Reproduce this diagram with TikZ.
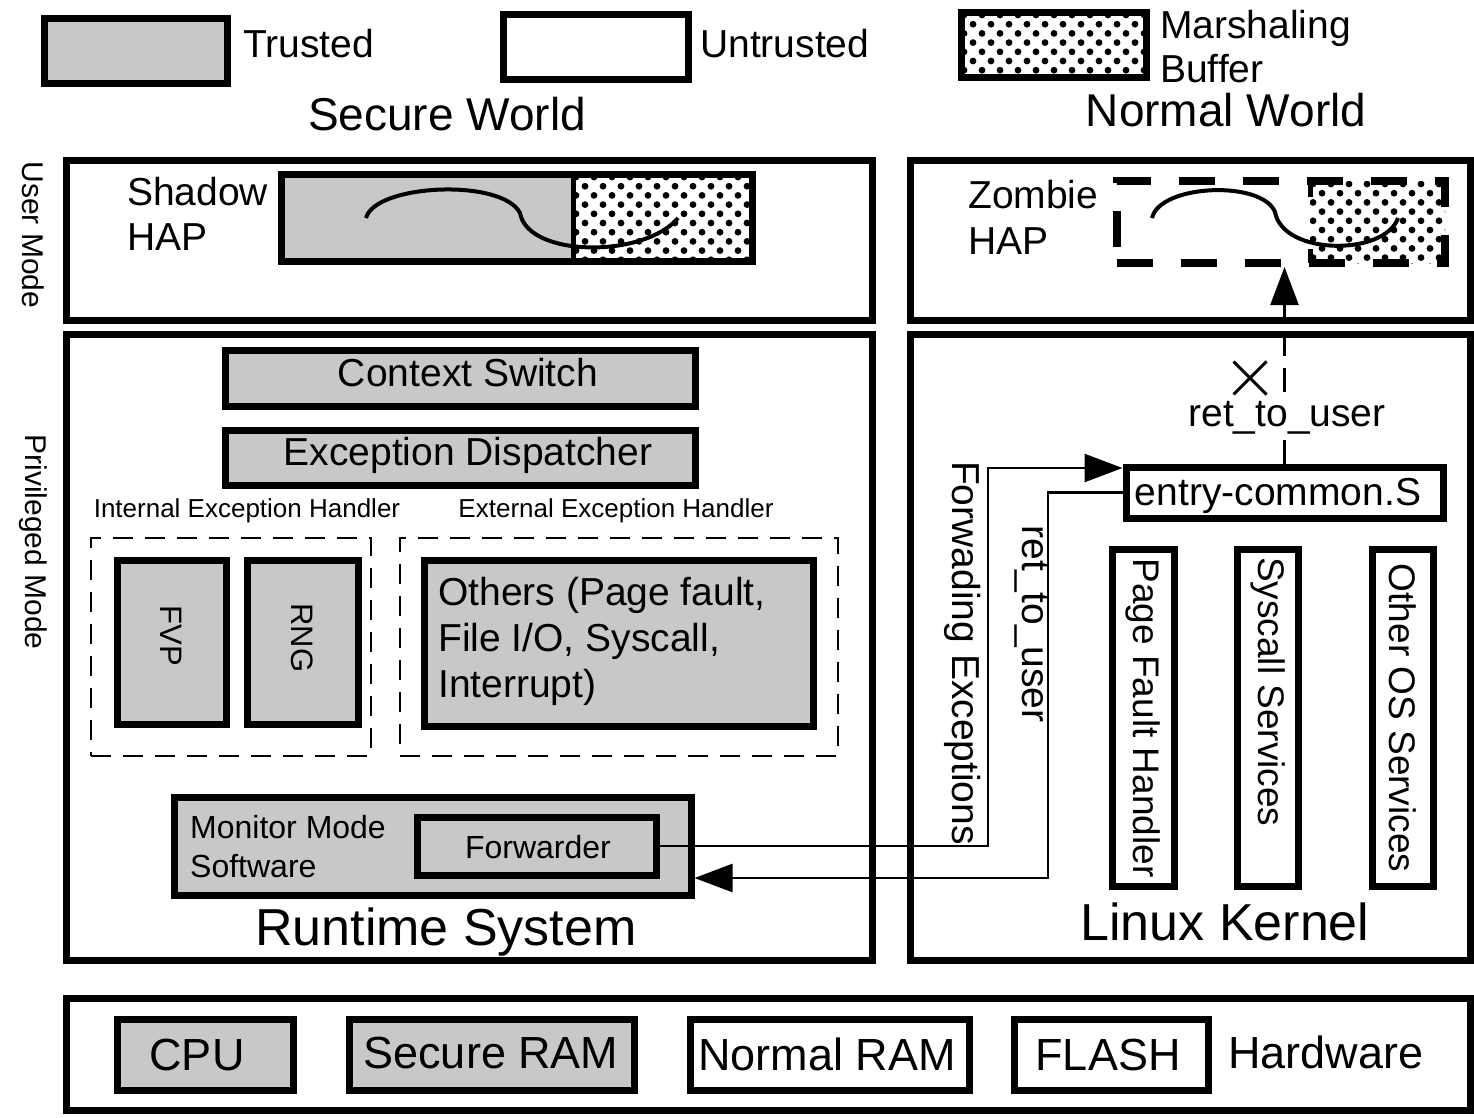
\documentclass[tikz,border=0pt]{standalone}
\usepackage{fontspec}
\setmainfont{Liberation Sans}
\usetikzlibrary{fit,arrows.meta,shapes.misc}
\definecolor{tgray}{HTML}{C8C8C8}
\newcommand\dotarea[4]{%
  \begin{scope}
    \clip (#1,#2) rectangle (#3,#4);
    \foreach \j in {0,...,12}{%
      \foreach \i in {0,...,14}{%
        \fill ({#1+3+\i*18+mod(\j,2)*9},{#2+3+\j*9.2}) circle[radius=3.4];
      }}
  \end{scope}}
\begin{document}
\begin{tikzpicture}[x=1pt,y=-1pt,
  box/.style={draw, line width=7pt, inner sep=0pt},
  trusted/.style={box, fill=tgray},
  untrusted/.style={box, fill=white},
  panel/.style={draw, line width=7pt, inner sep=0pt},
  dbox/.style={draw, line width=2.5pt, dash pattern=on 20pt off 12pt, inner sep=0pt},
  txt/.style={inner sep=0pt, font=\fontsize{39}{46}\selectfont},
  ktxt/.style={inner sep=0pt, font=\fontsize{37}{44}\selectfont},
  small/.style={inner sep=0pt, font=\fontsize{26}{30}\selectfont},
  mid/.style={inner sep=0pt, font=\fontsize{32}{39}\selectfont},
  big/.style={inner sep=0pt, font=\fontsize{46}{54}\selectfont},
  huge/.style={inner sep=0pt, font=\fontsize{52}{60}\selectfont},
  hwtxt/.style={inner sep=0pt, font=\fontsize{45}{52}\selectfont},
  conn/.style={line width=2.5pt},
  tip/.style={-{Triangle[length=38pt,width=28pt]}}
]
\useasboundingbox (0,0) rectangle (1474,1117);
\fill[white] (0,0) rectangle (1474,1117);

% ---------- legend ----------
\node[trusted, fit={(44,18) (227,83)}] (legT) {};
\node[txt, anchor=base west] (legTt) at (243,57) {Trusted};
\node[untrusted, fit={(503,14) (688,79)}] (legU) {};
\node[txt, anchor=base west] (legUt) at (700,57) {Untrusted};
\dotarea{961}{12}{1146}{77}
\node[box, fit={(961,12) (1146,77)}] (legM) {};
\node[txt, anchor=north west, align=left, font=\fontsize{39}{44}\selectfont] (legMt) at (1160,10) {Marshaling\\Buffer};

% ---------- titles ----------
\node[big, anchor=base] (sw) at (447,130) {Secure World};
\node[big, anchor=base] (nw) at (1226,126) {Normal World};

% ---------- side labels ----------
\node[inner sep=0pt, font=\fontsize{30}{36}\selectfont, rotate=-90] (um) at (33,235) {User Mode};
\node[inner sep=0pt, font=\fontsize{30}{36}\selectfont, rotate=-90] (pm) at (33,542) {Privileged Mode};

% ---------- panels ----------
\node[panel, fit={(66,160) (872,320)}] (suser) {};
\node[panel, fit={(66,334) (872,960)}] (spriv) {};
\node[panel, fit={(910,160) (1470,320)}] (nuser) {};
\node[panel, fit={(910,334) (1470,960)}] (npriv) {};
\node[panel, fit={(66,998) (1470,1110)}] (hw) {};

% ---------- Shadow HAP ----------
\node[txt, anchor=north west, align=left, font=\fontsize{39}{45}\selectfont] (shadowt) at (127,177) {Shadow\\HAP};
\fill[tgray] (281,174) rectangle (573,261);
\dotarea{573}{174}{752}{261}
\node[box, fit={(281,174) (752,261)}] (shadow) {};
\draw[line width=5pt] (573,174) -- (573,261);
\draw[line width=4pt] (366,218) .. controls (375,184) and (502,178) .. (520,213)
  .. controls (528,258) and (645,258) .. (678,218);

% ---------- Zombie HAP ----------
\node[txt, anchor=north west, align=left, font=\fontsize{39}{46}\selectfont] (zombiet) at (968,180) {Zombie\\HAP};
\dotarea{1310}{181}{1445}{263}
\node[draw, line width=8pt, dash pattern=on 36pt off 28pt, inner sep=0pt, fit={(1117,181) (1445,263)}] (zombie) {};
\draw[line width=5pt, dash pattern=on 16pt off 52pt] (1310,181) -- (1310,263);
\draw[line width=4pt] (1152,218) .. controls (1160,184) and (1262,180) .. (1275,212)
  .. controls (1283,256) and (1385,256) .. (1398,218);

% ---------- Runtime system ----------
\node[trusted, fit={(225,350) (695,406)}] (ctx) {};
\node[txt, anchor=base] (ctxt) at (468,386) {Context Switch};
\node[trusted, fit={(225,430) (695,485)}] (exd) {};
\node[txt, anchor=base] (exdt) at (468,465) {Exception Dispatcher};

\node[small, anchor=base] (ieh) at (247,517) {Internal Exception Handler};
\node[small, anchor=base] (eeh) at (616,517) {External Exception Handler};
\node[dbox, fit={(91,538) (371,756)}] (ibox) {};
\node[dbox, fit={(400,538) (838,756)}] (ebox) {};

\node[trusted, fit={(117,560) (226,724)}] (fvp) {};
\node[inner sep=0pt, font=\fontsize{31}{36}\selectfont, rotate=-90] (fvpt) at (171,636) {FVP};
\node[trusted, fit={(247,560) (358,724)}] (rng) {};
\node[inner sep=0pt, font=\fontsize{31}{36}\selectfont, rotate=-90] (rngt) at (302,638) {RNG};
\node[trusted, fit={(424,560) (813,726)}] (oth) {};
\node[txt, anchor=north west, align=left] (otht) at (438,577) {Others (Page fault,\\File I/O, Syscall,\\Interrupt)};

\node[trusted, fit={(174,797) (691,895)}] (mon) {};
\node[mid, anchor=north west, align=left] (mont) at (190,815) {Monitor Mode\\Software};
\node[trusted, fit={(417,817) (656,875)}] (fwd) {};
\node[mid, anchor=base] (fwdt) at (538,858) {Forwarder};

\node[huge, anchor=base] (rts) at (446,945) {Runtime System};

% ---------- Linux kernel ----------
\node[untrusted, fit={(1126,467) (1443,518)}] (entry) {};
\node[txt, anchor=base] (entryt) at (1278,505) {entry-common.S};

\node[untrusted, fit={(1112,549) (1174,886)}] (pfh) {};
\node[ktxt, rotate=-90] (pfht) at (1143,718) {Page Fault Handler};
\node[untrusted, fit={(1237,549) (1298,886)}] (sys) {};
\node[ktxt, rotate=-90, anchor=north west] (syst) at (1285,557) {Syscall Services};
\node[untrusted, fit={(1372,549) (1433,886)}] (oos) {};
\node[ktxt, rotate=-90] (oost) at (1403,718) {Other OS Services};

\node[huge, anchor=base] (lk) at (1225,940) {Linux Kernel};

% ---------- connectors ----------
\coordinate (fwdturn) at (988,468);
\draw[conn, tip] (fwd.east) -| (fwdturn) -- (fwdturn -| entry.west);
\node[txt, rotate=-90] (fwdl) at (963,653) {Forwading Exceptions};

\coordinate (retturn) at (1048,878);
\draw[conn, tip] (entry.west) -| (retturn) -- (retturn -| mon.east);
\node[txt, rotate=-90] (retl) at (1031,624) {ret\_to\_user};

\draw[conn, dash pattern=on 24pt off 12pt, tip] (entry.north) -- (entry.north |- zombie.south);
\node[draw, cross out, line width=3pt, minimum size=30pt, inner sep=0pt] (xmark) at (1250,378) {};
\node[txt, anchor=base, fill=white, inner sep=1pt] (retu) at (1287,426) {ret\_to\_user};

% ---------- hardware ----------
\node[trusted, fit={(117,1019) (293,1090)}] (cpu) {};
\node[hwtxt, anchor=base] (cput) at (197,1070) {CPU};
\node[trusted, fit={(349,1019) (634,1090)}] (sram) {};
\node[hwtxt, anchor=base] (sramt) at (491,1068) {Secure RAM};
\node[untrusted, fit={(690,1019) (969,1090)}] (nram) {};
\node[hwtxt, anchor=base] (nramt) at (827,1070) {Normal RAM};
\node[untrusted, fit={(1014,1019) (1208,1090)}] (flash) {};
\node[hwtxt, anchor=base] (flasht) at (1108,1070) {FLASH};
\node[hwtxt, anchor=base west] (hwt) at (1228,1068) {Hardware};
\end{tikzpicture}
\end{document}
